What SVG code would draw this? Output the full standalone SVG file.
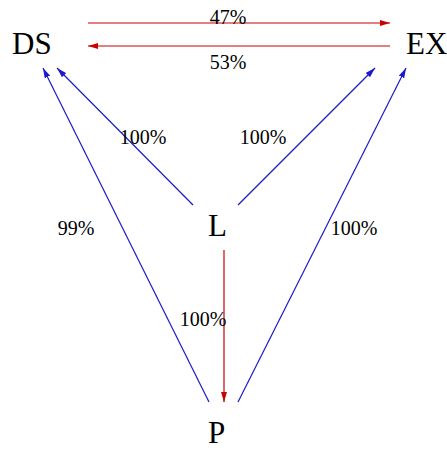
<svg xmlns="http://www.w3.org/2000/svg" width="447" height="450" viewBox="0 0 447 450">
<style>
.node{font-family:"Liberation Serif","Times New Roman",serif;font-size:31px;fill:#000}
.lbl{font-family:"Liberation Serif","Times New Roman",serif;font-size:20px;fill:#000;text-anchor:middle}
.b{stroke:#1a1acc;stroke-width:1.2;fill:none;marker-end:url(#ab)}
.r{stroke:#cc0000;stroke-width:1.2;fill:none;marker-end:url(#ar)}
</style>
<defs>
<marker id="ab" viewBox="0 0 10 6" refX="10" refY="3" markerWidth="10" markerHeight="6" markerUnits="userSpaceOnUse" orient="auto"><path d="M0,0L10,3L0,6z" fill="#1a1acc"/></marker>
<marker id="ar" viewBox="0 0 10 6" refX="10" refY="3" markerWidth="10" markerHeight="6" markerUnits="userSpaceOnUse" orient="auto"><path d="M0,0L10,3L0,6z" fill="#cc0000"/></marker>
</defs>
<g id="connectors">
<line class="r" x1="88" y1="23" x2="390" y2="23"/>
<line class="r" x1="390" y1="46" x2="88" y2="46"/>
<line class="b" x1="193" y1="205" x2="57" y2="68"/>
<line class="b" x1="238" y1="205" x2="375" y2="68"/>
<line class="b" x1="209" y1="402" x2="43" y2="68"/>
<line class="b" x1="238" y1="402" x2="406" y2="68"/>
<line class="r" x1="224" y1="250" x2="224" y2="402"/>
<text class="lbl" x="228" y="24">47%</text>
<text class="lbl" x="228" y="69">53%</text>
<text class="lbl" x="143" y="144">100%</text>
<text class="lbl" x="263" y="144">100%</text>
<text class="lbl" x="76" y="235">99%</text>
<text class="lbl" x="354" y="235">100%</text>
<text class="lbl" x="203" y="326">100%</text>
</g>
<g id="DS"><text class="node" x="12" y="54">DS</text></g>
<g id="EX"><text class="node" x="406" y="54">EX</text></g>
<g id="L"><text class="node" x="208" y="236">L</text></g>
<g id="P"><text class="node" x="208" y="443">P</text></g>
</svg>
